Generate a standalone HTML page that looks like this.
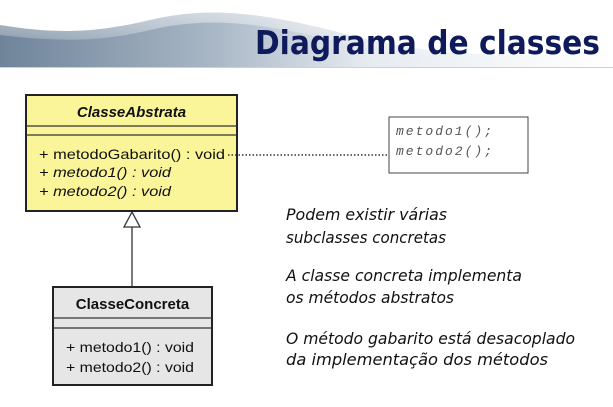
<!DOCTYPE html>
<html><head><meta charset="utf-8"><style>html,body{margin:0;padding:0;background:#fff}svg{display:block}</style></head>
<body>
<svg width="613" height="407" viewBox="0 0 613 407" xmlns="http://www.w3.org/2000/svg">
<defs>
<linearGradient id="g" x1="0" y1="0" x2="1" y2="0">
<stop offset="0" stop-color="#6f849a"/><stop offset="0.35" stop-color="#a9b7c6"/><stop offset="0.6" stop-color="#e6ebf0"/><stop offset="1" stop-color="#ffffff"/>
</linearGradient>
<linearGradient id="gv" x1="0" y1="0" x2="0" y2="1">
<stop offset="0" stop-color="#fff" stop-opacity="0.5"/><stop offset="1" stop-color="#fff" stop-opacity="0"/>
</linearGradient>
</defs>
<path d="M0 25 C60 35 100 32 150 20 C200 8 250 10 330 30 C420 55 500 60 613 50 L613 68 L0 68 Z" fill="url(#g)"/>
<path d="M0 25 C60 35 100 32 150 20 C200 8 250 10 330 30 C420 55 500 60 613 50 L613 58 C500 66 420 62 330 40 C250 20 200 18 150 30 C100 42 60 42 0 35Z" fill="url(#gv)"/>
<line x1="0" y1="67.5" x2="613" y2="67.5" stroke="#c9d2dc" stroke-width="1"/>
<text x="255" y="54" font-family="DejaVu Sans, sans-serif" font-weight="bold" font-size="33" fill="#0e1a5c" textLength="345" lengthAdjust="spacingAndGlyphs">Diagrama de classes</text>

<rect x="26" y="95" width="211" height="116" fill="#fbf59a" stroke="#222" stroke-width="2"/>
<line x1="26" y1="126" x2="237" y2="126" stroke="#333" stroke-width="1.2"/>
<line x1="26" y1="135" x2="237" y2="135" stroke="#333" stroke-width="1.2"/>
<g font-family="Liberation Sans, sans-serif" fill="#111">
<text x="131.5" y="117" font-size="15" font-weight="bold" font-style="italic" text-anchor="middle">ClasseAbstrata</text>
<text x="39" y="159" font-size="14" textLength="186" lengthAdjust="spacingAndGlyphs">+ metodoGabarito() : void</text>
<text x="39" y="177" font-size="14" font-style="italic" textLength="132" lengthAdjust="spacingAndGlyphs">+ metodo1() : void</text>
<text x="39" y="196" font-size="14" font-style="italic" textLength="132" lengthAdjust="spacingAndGlyphs">+ metodo2() : void</text>
</g>
<line x1="228" y1="155" x2="389" y2="155" stroke="#333" stroke-width="1.5" stroke-dasharray="1.5 2"/>

<rect x="389" y="117" width="139" height="56" fill="#fff" stroke="#444" stroke-width="1"/>
<g font-family="Liberation Mono, monospace" font-style="italic" font-size="13" fill="#555">
<text x="396" y="135" textLength="96" lengthAdjust="spacing">metodo1();</text>
<text x="396" y="155" textLength="96" lengthAdjust="spacing">metodo2();</text>
</g>

<line x1="132" y1="227" x2="132" y2="287" stroke="#333" stroke-width="1.3"/>
<polygon points="132,212 124,227 140,227" fill="#fff" stroke="#333" stroke-width="1.3"/>

<rect x="53" y="287" width="159" height="98" fill="#e6e6e6" stroke="#222" stroke-width="2"/>
<line x1="53" y1="318" x2="212" y2="318" stroke="#333" stroke-width="1.2"/>
<line x1="53" y1="328" x2="212" y2="328" stroke="#333" stroke-width="1.2"/>
<g font-family="Liberation Sans, sans-serif" fill="#111">
<text x="132.5" y="309" font-size="15" font-weight="bold" text-anchor="middle">ClasseConcreta</text>
<text x="66" y="352" font-size="14" textLength="128" lengthAdjust="spacingAndGlyphs">+ metodo1() : void</text>
<text x="66" y="372" font-size="14" textLength="128" lengthAdjust="spacingAndGlyphs">+ metodo2() : void</text>
</g>

<g font-family="DejaVu Sans, sans-serif" font-style="italic" font-size="16" fill="#111">
<text x="286" y="220" textLength="161" lengthAdjust="spacingAndGlyphs">Podem existir várias</text>
<text x="286" y="243" textLength="160" lengthAdjust="spacingAndGlyphs">subclasses concretas</text>
<text x="286" y="281" textLength="236" lengthAdjust="spacingAndGlyphs">A classe concreta implementa</text>
<text x="286" y="303" textLength="168" lengthAdjust="spacingAndGlyphs">os métodos abstratos</text>
<text x="286" y="344" textLength="289" lengthAdjust="spacingAndGlyphs">O método gabarito está desacoplado</text>
<text x="286" y="365" textLength="262" lengthAdjust="spacingAndGlyphs">da implementação dos métodos</text>
</g>
</svg>
</body></html>
